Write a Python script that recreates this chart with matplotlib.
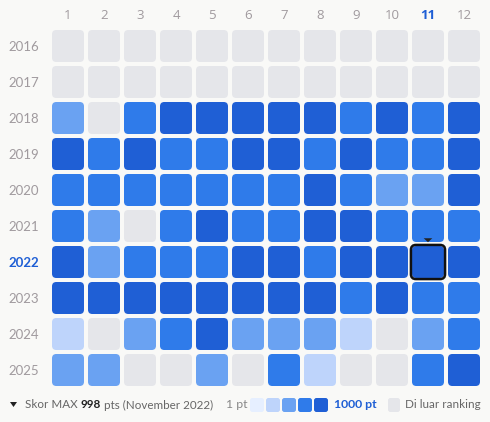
import matplotlib
matplotlib.use('Agg')
import matplotlib.pyplot as plt
from matplotlib.patches import FancyBboxPatch, Polygon

# ranking level per month (0 = di luar ranking, 1..5 = light -> dark)
years = ['2016', '2017', '2018', '2019', '2020', '2021', '2022', '2023', '2024', '2025']
months = ['1', '2', '3', '4', '5', '6', '7', '8', '9', '10', '11', '12']
levels = [
    [0, 0, 0, 0, 0, 0, 0, 0, 0, 0, 0, 0],
    [0, 0, 0, 0, 0, 0, 0, 0, 0, 0, 0, 0],
    [3, 0, 4, 5, 5, 5, 5, 5, 4, 5, 4, 5],
    [5, 4, 5, 4, 4, 5, 5, 4, 5, 4, 4, 5],
    [4, 4, 4, 4, 4, 4, 4, 5, 4, 3, 3, 5],
    [4, 3, 0, 4, 5, 4, 4, 5, 5, 4, 4, 4],
    [5, 3, 4, 4, 4, 5, 5, 4, 5, 5, 5, 5],
    [5, 5, 5, 5, 5, 5, 5, 5, 4, 5, 4, 4],
    [2, 0, 3, 4, 5, 3, 3, 3, 2, 0, 3, 4],
    [3, 3, 0, 0, 3, 0, 4, 2, 0, 0, 4, 5],
]
max_year, max_month = '2022', '11'

palette = ['#e5e6ea', '#e6efff', '#bed4fb', '#6aa2f2', '#2f7bea', '#1f5fd5']
bg = '#f9f9f7'
label_col = '#a09a9e'
accent = '#1f5fd5'

plt.rcParams['font.family'] = ['Lato', 'DejaVu Sans']

W, H = 490, 422
fig = plt.figure(figsize=(W / 100, H / 100), dpi=100, facecolor=bg)
ax = fig.add_axes([50 / W, (H - 388) / H, 432 / W, 360 / H])
ax.set_facecolor(bg)
ax.set_xlim(-0.5, len(months) - 0.5)
ax.set_ylim(len(years) - 0.5, -0.5)
for s in ax.spines.values():
    s.set_visible(False)

size = 32 / 36
for i, yr in enumerate(years):
    for j, m in enumerate(months):
        ax.add_patch(FancyBboxPatch((j - size / 2, i - size / 2), size, size,
                                    boxstyle='round,pad=0,rounding_size=0.12',
                                    fc=palette[levels[i][j]], ec='none'))

# highlight of max cell
mi, mj = years.index(max_year), months.index(max_month)
hs = size + 0.06
ax.add_patch(FancyBboxPatch((mj - hs / 2, mi - hs / 2), hs, hs,
                            boxstyle='round,pad=0,rounding_size=0.14',
                            fc='none', ec='#111111', lw=1.8, zorder=3))
ax.add_patch(Polygon([[mj - 0.12, mi - 0.66], [mj + 0.12, mi - 0.66], [mj, mi - 0.55]],
                     closed=True, fc='#222222', ec='none', zorder=3, clip_on=False))

ax.xaxis.tick_top()
ax.set_xticks(range(len(months)))
ax.set_xticklabels(months, fontsize=9.5, family=['Open Sans', 'DejaVu Sans'])
ax.set_yticks(range(len(years)))
ax.set_yticklabels(years, fontsize=9.5)
ax.tick_params(length=0, pad=4)
ax.tick_params(axis='y', pad=8)
for t in ax.get_xticklabels():
    if t.get_text() == max_month:
        t.set_color(accent); t.set_fontweight('bold')
    else:
        t.set_color(label_col)
for t in ax.get_yticklabels():
    if t.get_text() == max_year:
        t.set_color(accent); t.set_fontweight('bold')
    else:
        t.set_color(label_col)

# legend strip (pixel coordinates)
lg = fig.add_axes([0, 0, 1, 1], facecolor='none')
lg.set_xlim(0, W)
lg.set_ylim(H, 0)
lg.axis('off')
ly = 405
fs = 8.8
lg.add_patch(Polygon([[10, ly - 3], [17, ly - 3], [13.5, ly + 2]], closed=True, fc='#222222', ec='none'))

fig.canvas.draw()
r = fig.canvas.get_renderer()
x = 25
for txt, w, c in [('Skor MAX ', 'normal', '#666666'), ('998', 'bold', '#222222'),
                  (' pts (November 2022)', 'normal', '#666666')]:
    t = lg.text(x, ly, txt, fontsize=8.4, fontweight=w, color=c, va='center', ha='left')
    x += t.get_window_extent(r).width

lg.text(226, ly, '1 pt', fontsize=fs, color='#888888', va='center', ha='left')
for k in range(1, 6):
    lg.add_patch(FancyBboxPatch((250 + (k - 1) * 16, ly - 7), 14, 14,
                                boxstyle='round,pad=0,rounding_size=2.5',
                                fc=palette[k], ec='none'))
lg.text(334, ly, '1000 pt', fontsize=fs, fontweight='bold', color=accent, va='center', ha='left')
lg.add_patch(FancyBboxPatch((388, ly - 7), 12, 14, boxstyle='round,pad=0,rounding_size=2.5',
                            fc=palette[0], ec='none'))
lg.text(405, ly, 'Di luar ranking', fontsize=fs - 0.4, color='#666666', va='center', ha='left')

fig.savefig('out.png', dpi=100, facecolor=bg)
